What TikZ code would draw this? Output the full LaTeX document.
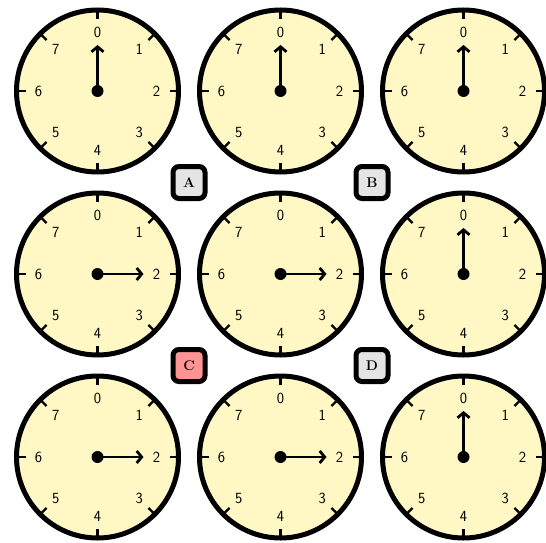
\documentclass[tikz,border=0pt]{standalone}
\usetikzlibrary{arrows.meta}
\definecolor{clockfill}{RGB}{255,248,197}
\definecolor{boxgray}{RGB}{228,228,228}
\definecolor{boxred}{RGB}{255,148,148}
\tikzset{
  dial/.style={draw=black, line width=5pt, fill=clockfill},
  tickmark/.style={line width=2.2pt},
  hand/.style={line width=2.8pt, -{Straight Barb[length=5pt,width=12pt]}},
  numlabel/.style={font=\sffamily\fontsize{15.5}{15.5}\selectfont, inner sep=0pt},
  tagbox/.style={draw=black, line width=5pt, rounded corners=6pt, minimum size=32pt, inner sep=0pt, font=\bfseries\fontsize{14}{14}\selectfont}
}
\begin{document}
\begin{tikzpicture}[x=1pt,y=-1pt]
\useasboundingbox (0,0) rectangle (546,543);
\foreach \cx/\cy/\h [count=\i] in {97.5/91/0, 280.5/91/0, 463.5/91/0, 97.5/274/2, 280.5/274/2, 463.5/274/0, 97.5/457/2, 280.5/457/2, 463.5/457/0}{
  \begin{scope}[shift={(\cx,\cy)}]
    \coordinate (c\i) at (0,0);
    \draw[dial] (c\i) circle (81);
    \foreach \k in {0,...,7}{
      \draw[tickmark] ({-90+45*\k}:72) -- ({-90+45*\k}:81);
      \node[numlabel] (n\i-\k) at ({-90+45*\k}:59) {\k};
    }
    \coordinate (t\i) at ({-90+45*\h}:46);
    \draw[hand] (c\i) -- (t\i);
    \fill (c\i) circle (6);
  \end{scope}
}
\node[tagbox, fill=boxgray] (A) at (189,182.5) {A};
\node[tagbox, fill=boxgray] (B) at (372,182.5) {B};
\node[tagbox, fill=boxred] (C) at (189,365.5) {C};
\node[tagbox, fill=boxgray] (D) at (372,365.5) {D};
\end{tikzpicture}
\end{document}
